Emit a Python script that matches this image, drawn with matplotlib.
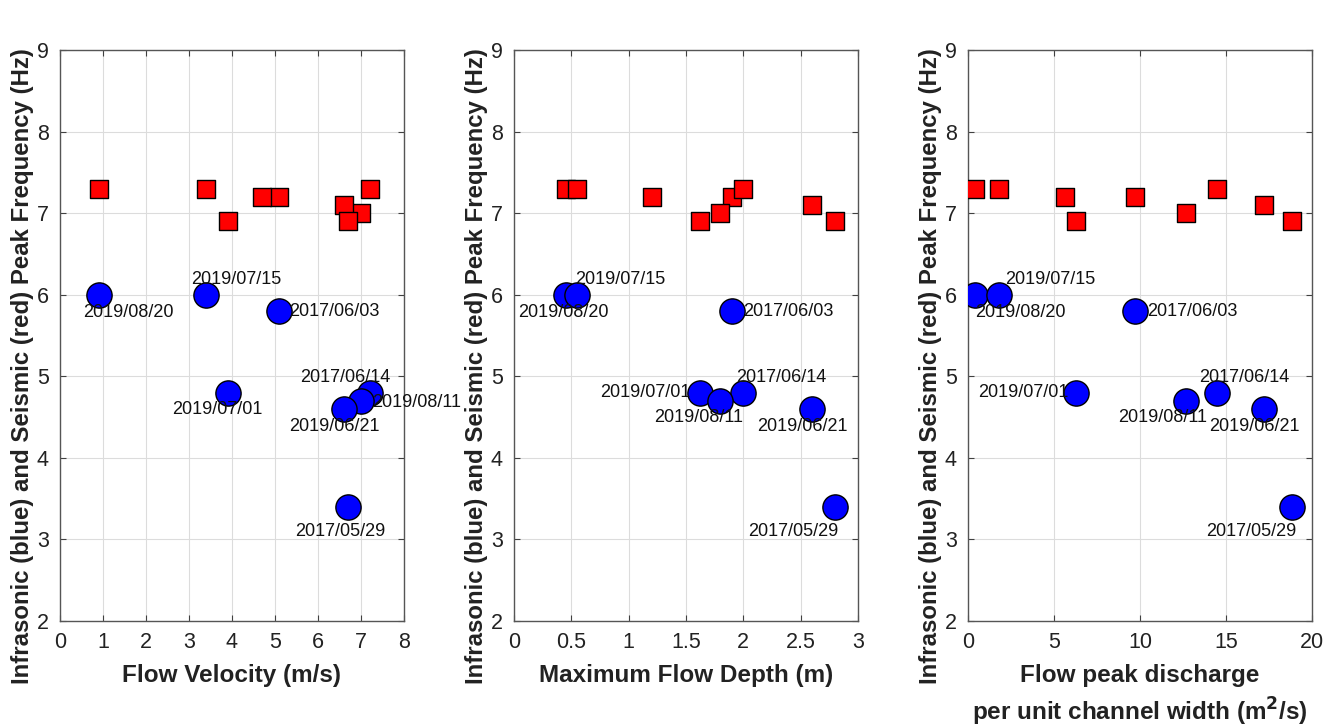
import matplotlib
matplotlib.use("Agg")
import matplotlib.pyplot as plt

plt.rcParams['font.family'] = ['Liberation Sans', 'DejaVu Sans']

# event data (one entry per debris-flow event)
dates = ['2019/08/20', '2019/07/15', '2017/06/03', '2019/07/01',
         '2017/06/14', '2019/08/11', '2019/06/21', '2017/05/29']
velocity = [0.9, 3.4, 5.1, 3.9, 7.2, 7.0, 6.6, 6.7]            # m/s
depth = [0.45, 0.55, 1.9, 1.62, 2.0, 1.8, 2.6, 2.8]            # m
discharge = [0.4, 1.8, 9.7, 6.3, 14.45, 12.65, 17.2, 18.85]    # m2/s
infra_freq = [6.0, 6.0, 5.8, 4.8, 4.8, 4.7, 4.6, 3.4]          # Hz (blue)
seis_freq = [7.3, 7.3, 7.2, 6.9, 7.3, 7.0, 7.1, 6.9]           # Hz (red)

# one extra event with seismic record only
extra_velocity = [4.7]
extra_depth = [1.2]
extra_discharge = [5.66]
extra_seis = [7.2]

# label offsets in pixels (dx, dy up, ha) per panel
offsets = [
    [(30, -18, 'center'), (30, 15, 'center'), (10, 0, 'left'), (-10, -17, 'center'),
     (-24, 15, 'center'), (11, -2, 'left'), (-9, -18, 'center'), (-8, -25, 'center')],
    [(-2, -18, 'center'), (43, 15, 'center'), (11, 0, 'left'), (-9, 0, 'right'),
     (38, 15, 'center'), (-22, -17, 'center'), (-10, -18, 'center'), (-42, -25, 'center')],
    [(45, -18, 'center'), (51, 15, 'center'), (12, 0, 'left'), (-8, 0, 'right'),
     (28, 15, 'center'), (-23, -17, 'center'), (-9, -18, 'center'), (-41, -25, 'center')],
]

panels = [
    (velocity, extra_velocity, (0, 8), range(0, 9), 'Flow Velocity (m/s)'),
    (depth, extra_depth, (0, 3), [0, 0.5, 1, 1.5, 2, 2.5, 3], 'Maximum Flow Depth (m)'),
    (discharge, extra_discharge, (0, 20), range(0, 21, 5),
     'Flow peak discharge\nper unit channel width (m$^\\mathbf{2}$/s)'),
]

fig = plt.figure(figsize=(13.38, 7.27), dpi=100)
lefts = [60, 514, 968]
for i, (xv, xextra, xlim, xticks, xlabel) in enumerate(panels):
    ax = fig.add_axes([lefts[i] / 1338, 1 - 621 / 727, 344 / 1338, 571 / 727])
    ax.scatter(xv + xextra, seis_freq + extra_seis, marker='s', s=170,
               c='red', edgecolors='black', linewidths=1, zorder=3)
    ax.scatter(xv, infra_freq, marker='o', s=330,
               c='blue', edgecolors='black', linewidths=1, zorder=4)
    for j, d in enumerate(dates):
        dx, dy, ha = offsets[i][j]
        ax.annotate(d, (xv[j], infra_freq[j]), xytext=(dx, dy),
                    textcoords='offset pixels', ha=ha, va='center',
                    fontsize=13, color='#111111', zorder=5)
    ax.set_xlim(*xlim)
    ax.set_ylim(2, 9)
    ax.set_xticks(list(xticks))
    ax.set_xticklabels([('%g' % t) for t in xticks])
    ax.set_yticks(range(2, 10))
    ax.grid(True, color='#dcdcdc', linewidth=0.8)
    ax.set_axisbelow(True)
    ax.tick_params(direction='in', length=4, width=0.8, top=True, right=True,
                   labelsize=15.5, colors='#404040', labelcolor='#222222', pad=8)
    for sp in ax.spines.values():
        sp.set_color('#555555')
        sp.set_linewidth(1.0)
    ax.set_xlabel(xlabel, fontsize=17.5, fontweight='bold', color='#222222',
                  labelpad=8, linespacing=1.35)
    ax.set_ylabel('Infrasonic (blue) and Seismic (red) Peak Frequency (Hz)',
                  fontsize=17.3, fontweight='bold', color='#222222')
    ax.yaxis.set_label_coords(-0.075, 0.447)

fig.savefig('out.png', dpi=100)
